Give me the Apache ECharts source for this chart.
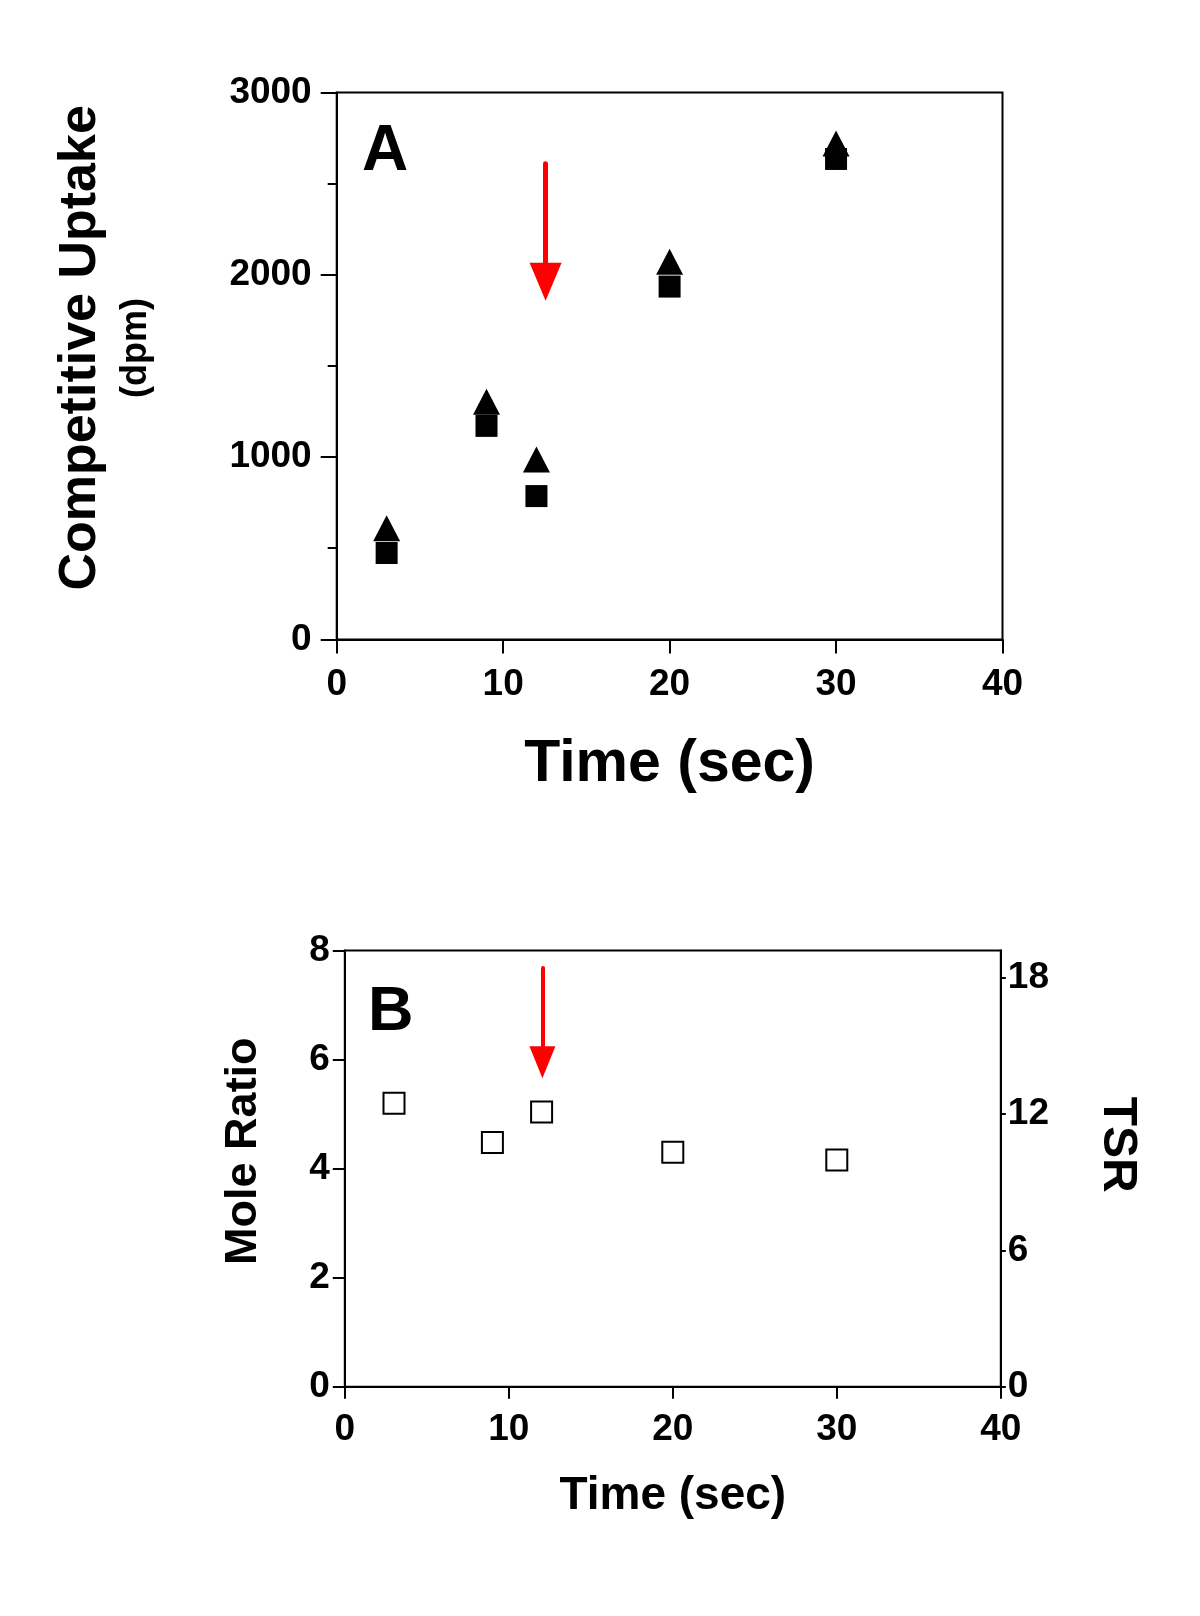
<!DOCTYPE html>
<html><head><meta charset="utf-8">
<script src="https://cdn.jsdelivr.net/npm/echarts@6/dist/echarts.min.js"></script>
<style>html,body{margin:0;padding:0;background:#fff}#c{width:1200px;height:1616px}</style>
</head><body><div id="c"></div>
<script>
// ---- data ----
const timesA = [3, 9, 12, 20, 30];
const uptakeTriangle = [609, 1303, 987, 2071, 2720];
const uptakeSquare = [474, 1171, 786, 1935, 2635];
const timesB = [3, 9, 12, 20, 30];
const moleRatio = [5.20, 4.48, 5.04, 4.30, 4.16];
const timeTicks = [0, 10, 20, 30, 40];
const uptakeTicks = [0, 1000, 2000, 3000];
const moleTicks = [0, 2, 4, 6, 8];
const tsrTicks = [0, 6, 12, 18];
const tsrMax = 19.2;
const arrowA = { time: 12.55, from: 2608, to: 1962 };
const arrowB = { time: 12.05, from: 7.68, to: 5.95 };

const font = "'Liberation Sans', Arial, sans-serif";
const black = '#000';
const plain = v => String(v);
const lbl = (size, margin) => ({ margin: margin, fontSize: size, fontWeight: 'bold', color: black, fontFamily: font, formatter: plain });
const line = { lineStyle: { color: black, width: 2 } };

function arrowMark(a, w, h, lw) {
  return {
    silent: true, animation: false, label: { show: false },
    emphasis: { disabled: true },
    lineStyle: { color: '#ff0000', width: lw, type: 'solid', cap: 'round', opacity: 1 },
    itemStyle: { color: '#ff0000', opacity: 1 },
    data: [[
      { coord: [a.time, a.from], symbol: 'none' },
      { coord: [a.time, a.to], symbol: 'triangle', symbolSize: [w, h] }
    ]]
  };
}

const chart = echarts.init(document.getElementById('c'), null, { renderer: 'canvas' });
chart.setOption({
  animation: false,
  backgroundColor: '#fff',
  title: [
    { text: 'A', left: 362, top: 120, padding: 0, textStyle: { fontSize: 64, fontWeight: 'bold', fontFamily: font, color: black } },
    { text: 'B', left: 368, top: 981, padding: 0, textStyle: { fontSize: 63, fontWeight: 'bold', fontFamily: font, color: black } }
  ],
  grid: [
    { left: 336.7, right: 197.5, top: 92.4, bottom: 976.6, show: true, borderColor: black, borderWidth: 2, backgroundColor: 'transparent', outerBoundsMode: 'none' },
    { left: 344.8, right: 199.2, top: 950.6, bottom: 229.3, show: true, borderColor: black, borderWidth: 2, backgroundColor: 'transparent', outerBoundsMode: 'none' }
  ],
  xAxis: [
    { gridIndex: 0, type: 'value', min: timeTicks[0], max: timeTicks[timeTicks.length - 1], interval: 10,
      axisLine: { show: true, onZero: false, ...line }, axisTick: { show: true, length: 14, ...line },
      axisLabel: lbl(37, 27), splitLine: { show: false },
      name: 'Time (sec)', nameLocation: 'middle', nameGap: 96, nameMoveOverlap: false,
      nameTextStyle: { fontSize: 59, fontWeight: 'bold', color: black, fontFamily: font } },
    { gridIndex: 1, type: 'value', min: timeTicks[0], max: timeTicks[timeTicks.length - 1], interval: 10,
      axisLine: { show: true, onZero: false, ...line }, axisTick: { show: true, length: 12, ...line },
      axisLabel: lbl(37, 25), splitLine: { show: false },
      name: 'Time (sec)', nameLocation: 'middle', nameGap: 87, nameMoveOverlap: false,
      nameTextStyle: { fontSize: 46, fontWeight: 'bold', color: black, fontFamily: font } }
  ],
  yAxis: [
    { gridIndex: 0, type: 'value', min: uptakeTicks[0], max: uptakeTicks[uptakeTicks.length - 1], interval: 1000,
      axisLine: { show: true, onZero: false, ...line }, axisTick: { show: true, length: 16, ...line },
      minorTick: { show: true, splitNumber: 2, length: 9, ...line },
      axisLabel: lbl(37, 25), splitLine: { show: false }, minorSplitLine: { show: false },
      name: '{a|Competitive Uptake}\n{b|(dpm)}', nameLocation: 'middle', nameRotate: 90, nameGap: 183, nameMoveOverlap: false,
      nameTextStyle: { padding: [0, 0, 0, 36], align: 'center',
        rich: { a: { fontSize: 52, lineHeight: 75, fontWeight: 'bold', color: black, fontFamily: font, align: 'center' },
                b: { fontSize: 36, fontWeight: 'bold', color: black, fontFamily: font, align: 'center' } } } },
    { gridIndex: 1, type: 'value', min: moleTicks[0], max: moleTicks[moleTicks.length - 1], interval: 2,
      axisLine: { show: true, onZero: false, ...line }, axisTick: { show: true, length: 12, ...line },
      axisLabel: lbl(37, 15), splitLine: { show: false },
      name: 'Mole Ratio', nameLocation: 'middle', nameRotate: 90, nameGap: 79, nameMoveOverlap: false,
      nameTextStyle: { fontSize: 45, fontWeight: 'bold', color: black, fontFamily: font, padding: [0, 0, 0, 35] } },
    { gridIndex: 1, type: 'value', position: 'right', min: tsrTicks[0], max: tsrMax, interval: 6,
      axisLine: { show: true, onZero: false, ...line },
      axisTick: { show: true, length: 5, customValues: tsrTicks, ...line },
      axisLabel: { ...lbl(37, 7), customValues: tsrTicks }, splitLine: { show: false },
      name: 'TSR', nameLocation: 'middle', nameRotate: -90, nameGap: 92, nameMoveOverlap: false,
      nameTextStyle: { fontSize: 48, fontWeight: 'bold', color: black, fontFamily: font, padding: [0, 48, 0, 0] } }
  ],
  series: [
    { type: 'scatter', xAxisIndex: 0, yAxisIndex: 0, symbol: 'rect', symbolSize: 22,
      itemStyle: { color: black, opacity: 1 }, emphasis: { disabled: true },
      data: timesA.map((t, i) => [t, uptakeSquare[i]]) },
    { type: 'scatter', xAxisIndex: 0, yAxisIndex: 0, symbol: 'triangle', symbolSize: [27, 26],
      itemStyle: { color: black, opacity: 1 }, emphasis: { disabled: true },
      data: timesA.map((t, i) => [t, uptakeTriangle[i]]),
      markLine: arrowMark(arrowA, 32, 38, 5) },
    { type: 'scatter', xAxisIndex: 1, yAxisIndex: 1, symbol: 'rect', symbolSize: 21,
      itemStyle: { color: '#fff', borderColor: black, borderWidth: 2, opacity: 1 }, emphasis: { disabled: true },
      data: timesB.map((t, i) => [t, moleRatio[i]]),
      markLine: arrowMark(arrowB, 26, 32, 4) }
  ]
});
</script>
</body></html>
